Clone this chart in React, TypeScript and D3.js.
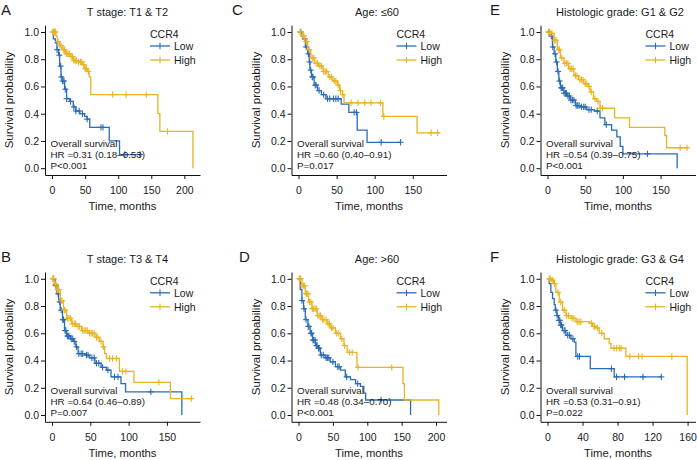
import * as d3 from "d3";
import { useEffect, useRef } from "react";

type Pt = [number, number];

const BLUE = "#2b6cb5";
const GOLD = "#e7b423";
const FONT = "'Liberation Sans', Arial, Helvetica, sans-serif";
const TEXT = "#1a1a1a";

// ---- A: T stage T1 & T2 ----
const A_LOW: Pt[] = [[0, 1], [2, 0.95], [5, 0.92], [7.5, 0.87], [10, 0.83], [11.5, 0.75], [13.5, 0.67], [16, 0.64], [19, 0.58], [22, 0.51], [27, 0.49], [32, 0.45], [36, 0.42], [42, 0.4], [49, 0.38], [53, 0.36], [57, 0.3], [86.5, 0.2], [102, 0.1]];
const A_LOW_END = 135;
const A_LOW_CENS = [7.6, 11, 13, 14, 16, 18, 20, 22, 28, 33, 36, 41, 46, 53, 74, 77, 110, 133];
const A_HIGH: Pt[] = [[0, 1], [6, 0.97], [8, 0.93], [11, 0.9], [15, 0.87], [20, 0.84], [27, 0.82], [33, 0.79], [40, 0.78], [46, 0.76], [50, 0.73], [53, 0.71], [56, 0.67], [58.5, 0.54], [160, 0.4], [163, 0.27], [213, 0]];
const A_HIGH_END = 213;
const A_HIGH_CENS = [1, 2, 3, 4, 5, 9, 12, 14, 17, 19, 22, 24, 26, 29, 31, 33, 35, 37, 40, 43, 45, 48, 50, 52, 55, 91.6, 112, 142.5, 174.5];

// ---- B: T stage T3 & T4 ----
const B_LOW: Pt[] = [[0, 1], [4, 0.95], [6.4, 0.89], [8.6, 0.83], [10.7, 0.77], [13.7, 0.7], [16.3, 0.62], [19, 0.58], [23.6, 0.56], [28, 0.54], [31, 0.5], [34, 0.45], [43, 0.44], [49, 0.42], [56, 0.38], [64, 0.35], [71, 0.33], [77, 0.28], [90, 0.23], [96, 0.17], [169.5, 0]];
const B_LOW_END = 169.5;
const B_LOW_CENS = [2, 5, 8, 10, 12, 14, 15, 17, 18, 20, 21, 22, 25, 27, 29, 32, 35, 38, 40, 45, 47, 52, 55, 58, 61, 66, 73, 81.5, 86, 129];
const B_HIGH: Pt[] = [[0, 1], [3, 0.96], [6.4, 0.92], [10.7, 0.84], [15, 0.77], [19, 0.71], [25.7, 0.67], [32, 0.65], [38.6, 0.62], [47, 0.6], [56, 0.57], [62, 0.54], [66.5, 0.5], [68.7, 0.45], [71, 0.415], [88, 0.32], [107, 0.24], [154.5, 0.12]];
const B_HIGH_END = 183.7;
const B_HIGH_CENS = [1, 2, 4, 5, 7, 8, 9, 12, 13, 16, 17, 20, 22, 24, 27, 29, 31, 34, 36, 40, 42, 44, 46, 49, 51, 53, 55, 58, 60, 64, 67, 75, 79, 84, 92, 96.5, 139.5, 182];

// ---- C: Age <=60 ----
const C_LOW: Pt[] = [[0, 1], [4, 0.97], [6, 0.95], [9, 0.89], [12, 0.84], [14, 0.78], [15, 0.72], [17, 0.67], [20.5, 0.61], [25, 0.57], [30, 0.54], [36, 0.51], [56, 0.47], [66, 0.41], [77, 0.28], [90, 0.19]];
const C_LOW_END = 134;
const C_LOW_CENS = [3, 8, 10, 13, 14.5, 16, 18, 19, 22, 23, 27, 33, 38, 41, 46, 49, 52, 73, 76, 108.5, 134];
const C_HIGH: Pt[] = [[0, 1], [3, 0.98], [5, 0.97], [8, 0.93], [12, 0.87], [16, 0.81], [21, 0.77], [26.6, 0.75], [32, 0.71], [39, 0.67], [45, 0.64], [51, 0.61], [54, 0.57], [57.5, 0.54], [59.7, 0.48], [110.7, 0.38], [155.6, 0.26]];
const C_HIGH_END = 184.7;
const C_HIGH_CENS = [2, 6, 7, 10, 11, 14, 18, 20, 23, 25, 28, 30, 33, 35, 37, 41, 43, 47, 49, 52, 55, 58, 69, 78, 87, 95, 107.6, 112, 174, 182.6];

// ---- D: Age >60 ----
const D_LOW: Pt[] = [[0, 1], [2.4, 0.92], [4.9, 0.84], [7.3, 0.78], [9.8, 0.7], [13.7, 0.65], [17, 0.6], [20.5, 0.55], [24.4, 0.51], [28, 0.49], [31.7, 0.44], [39, 0.42], [46, 0.39], [53.7, 0.355], [61, 0.33], [68, 0.28], [75.6, 0.26], [83, 0.23], [90, 0.21], [95, 0.16], [97.6, 0.11], [163, 0]];
const D_LOW_END = 163;
const D_LOW_CENS = [5, 8, 11, 14, 15, 18, 19, 21, 22, 24, 26, 27, 29, 30, 33, 36, 40, 42, 44, 50, 57, 59, 70, 86, 120];
const D_HIGH: Pt[] = [[0, 1], [4.9, 0.95], [9.8, 0.89], [14.6, 0.83], [19.5, 0.78], [27, 0.73], [34, 0.7], [41.5, 0.67], [46, 0.64], [53.7, 0.6], [61, 0.56], [66, 0.51], [70.7, 0.46], [85, 0.35], [152, 0.23], [154, 0.11], [204, 0]];
const D_HIGH_END = 204;
const D_HIGH_CENS = [1, 2, 3, 5, 7, 9, 11, 12, 14, 16, 18, 20, 22, 24, 26, 28, 30, 32, 35, 37, 40, 43, 45, 48, 50, 55, 58, 63, 67, 74, 78, 86.6, 135.6];

// ---- E: Histologic grade G1 & G2 ----
const E_LOW: Pt[] = [[0, 1], [3.5, 0.97], [6.5, 0.89], [8.7, 0.84], [11, 0.78], [13, 0.71], [15, 0.64], [17, 0.59], [21.7, 0.55], [26, 0.53], [30, 0.5], [37, 0.46], [43.5, 0.45], [52, 0.43], [62, 0.42], [69.6, 0.37], [76, 0.32], [85, 0.28], [92, 0.23], [96.5, 0.16], [100, 0.105], [172, 0]];
const E_LOW_END = 172;
const E_LOW_CENS = [2, 5, 7, 10, 12, 14, 16, 18, 19, 20, 22, 24, 25, 27, 29, 31, 33, 35, 38, 40, 42, 45, 48, 50, 55, 58, 66, 78, 132.6];
const E_HIGH: Pt[] = [[0, 1], [3, 0.99], [8.7, 0.94], [13, 0.87], [17, 0.81], [21.7, 0.77], [28, 0.73], [35, 0.68], [41, 0.65], [48, 0.62], [54, 0.6], [56.5, 0.56], [61, 0.51], [65, 0.49], [69.6, 0.44], [89, 0.37], [108.7, 0.3], [155.6, 0.24], [158, 0.15]];
const E_HIGH_END = 187;
const E_HIGH_CENS = [1, 2, 4, 6, 9, 11, 15, 16, 19, 23, 25, 27, 30, 32, 34, 37, 39, 43, 45, 47, 50, 52, 55, 58, 63, 67, 70, 73, 176, 185];

// ---- F: Histologic grade G3 & G4 ----
const F_LOW: Pt[] = [[0, 1], [1.9, 0.965], [3.8, 0.9], [5.7, 0.855], [7.6, 0.81], [8.8, 0.77], [10.7, 0.73], [12.6, 0.695], [14.5, 0.66], [17.1, 0.62], [21, 0.585], [26.7, 0.56], [30.5, 0.535], [32.4, 0.43], [48.8, 0.34], [76.2, 0.28]];
const F_LOW_END = 130.3;
const F_LOW_CENS = [9.5, 11, 13, 14, 15, 16, 19, 20, 23, 25, 29, 34.5, 36.5, 73, 78.8, 88, 109, 130];
const F_HIGH: Pt[] = [[0, 1], [4.6, 0.99], [6.9, 0.965], [9.5, 0.9], [13.3, 0.83], [17.1, 0.77], [21, 0.73], [26.7, 0.71], [32.4, 0.685], [47.6, 0.675], [51.4, 0.65], [55.2, 0.64], [59, 0.6], [64.8, 0.56], [70.5, 0.525], [72.4, 0.49], [89.5, 0.43], [159.5, 0]];
const F_HIGH_END = 159.5;
const F_HIGH_CENS = [2, 3, 5, 6, 8, 12, 15, 19, 22, 24, 28, 30, 34, 36, 38, 50, 53, 54, 57, 62, 76, 79, 82, 84, 94, 104, 108, 142];

const TICKS_50 = [0, 50, 100, 150];
const TICKS_50_200 = [0, 50, 100, 150, 200];
const TICKS_40 = [0, 40, 80, 120, 160];
const Y_TICKS = [0, 0.2, 0.4, 0.6, 0.8, 1];

const PANELS = [
  { letter: "A", title: "T stage: T1 & T2", col: 0, row: 0, tmax: 213, xTicks: TICKS_50_200, hr: "HR =0.31 (0.18\u20130.53)", p: "P<0.001", low: A_LOW, lowEnd: A_LOW_END, lowCens: A_LOW_CENS, high: A_HIGH, highEnd: A_HIGH_END, highCens: A_HIGH_CENS, lx: 1 },
  { letter: "C", title: "Age: \u226460", col: 1, row: 0, tmax: 185, xTicks: TICKS_50, hr: "HR =0.60 (0.40\u20130.91)", p: "P=0.017", low: C_LOW, lowEnd: C_LOW_END, lowCens: C_LOW_CENS, high: C_HIGH, highEnd: C_HIGH_END, highCens: C_HIGH_CENS, lx: 232 },
  { letter: "E", title: "Histologic grade: G1 & G2", col: 2, row: 0, tmax: 187, xTicks: TICKS_50, hr: "HR =0.54 (0.39\u20130.75)", p: "P<0.001", low: E_LOW, lowEnd: E_LOW_END, lowCens: E_LOW_CENS, high: E_HIGH, highEnd: E_HIGH_END, highCens: E_HIGH_CENS, lx: 490 },
  { letter: "B", title: "T stage: T3 & T4", col: 0, row: 1, tmax: 184, xTicks: TICKS_50, hr: "HR =0.64 (0.46\u20130.89)", p: "P=0.007", low: B_LOW, lowEnd: B_LOW_END, lowCens: B_LOW_CENS, high: B_HIGH, highEnd: B_HIGH_END, highCens: B_HIGH_CENS, lx: 1 },
  { letter: "D", title: "Age: >60", col: 1, row: 1, tmax: 205, xTicks: TICKS_50_200, hr: "HR =0.48 (0.34\u20130.70)", p: "P<0.001", low: D_LOW, lowEnd: D_LOW_END, lowCens: D_LOW_CENS, high: D_HIGH, highEnd: D_HIGH_END, highCens: D_HIGH_CENS, lx: 239 },
  { letter: "F", title: "Histologic grade: G3 & G4", col: 2, row: 1, tmax: 161, xTicks: TICKS_40, hr: "HR =0.53 (0.31\u20130.91)", p: "P=0.022", low: F_LOW, lowEnd: F_LOW_END, lowCens: F_LOW_CENS, high: F_HIGH, highEnd: F_HIGH_END, highCens: F_HIGH_CENS, lx: 490 },
];

const COL_LEFT = [45, 291.5, 540.5];
const TITLE_CX = [127.5, 377, 620];
const ROW_TOP = [25.2, 272];
const PW = 155;
const PH = 149.8;

function survAt(steps: Pt[], t: number) {
  let s = 1;
  for (const [ti, si] of steps) if (ti <= t) s = si;
  return s;
}

function Curve({ steps, end, cens, color, x, y }: any) {
  const last = steps[steps.length - 1];
  const pts: Pt[] = end > last[0] ? [...steps, [end, last[1]]] : steps;
  const line = d3.line<Pt>().x((d) => x(d[0])).y((d) => y(d[1])).curve(d3.curveStepAfter);
  return (
    <g>
      <path d={line(pts) || ""} fill="none" stroke={color} strokeWidth={1.3} />
      {cens.map((t: number, i: number) => {
        const cx = x(t);
        const cy = y(survAt(steps, t));
        return (
          <g key={i} stroke={color} strokeWidth={1.1}>
            <line x1={cx} x2={cx} y1={cy - 3.2} y2={cy + 3.2} />
            <line x1={cx - 3} x2={cx + 3} y1={cy} y2={cy} />
          </g>
        );
      })}
    </g>
  );
}

function KmPanel({ cfg }: any) {
  const gx = useRef<SVGGElement>(null);
  const gy = useRef<SVGGElement>(null);
  const left = COL_LEFT[cfg.col];
  const top = ROW_TOP[cfg.row];
  const x = d3.scaleLinear().domain([-0.05 * cfg.tmax, 1.05 * cfg.tmax]).range([left, left + PW]);
  const y = d3.scaleLinear().domain([-0.05, 1.05]).range([top + PH, top]);

  useEffect(() => {
    const style = (g: any) => {
      g.select(".domain").attr("stroke", "#111").attr("stroke-width", 1);
      g.selectAll(".tick line").attr("stroke", "#111").attr("stroke-width", 1);
      g.selectAll("text").attr("font-size", 10.5).attr("font-family", FONT).attr("fill", TEXT);
    };
    d3.select(gx.current!)
      .call(d3.axisBottom(x).tickValues(cfg.xTicks).tickSize(4).tickSizeOuter(0).tickPadding(7.5).tickFormat(d3.format("d")))
      .call(style);
    d3.select(gy.current!)
      .call(d3.axisLeft(y).tickValues(Y_TICKS).tickSize(4).tickSizeOuter(0).tickPadding(2).tickFormat(d3.format(".1f")))
      .call(style);
  });

  const y0 = y(0);
  const lgx = left + 105;
  return (
    <g fontFamily={FONT} fill={TEXT}>
      <text x={cfg.lx} y={top - 10} fontSize={15}>{cfg.letter}</text>
      <text x={TITLE_CX[cfg.col]} y={top - 9} fontSize={11} textAnchor="middle">{cfg.title}</text>
      <Curve steps={cfg.low} end={cfg.lowEnd} cens={cfg.lowCens} color={BLUE} x={x} y={y} />
      <Curve steps={cfg.high} end={cfg.highEnd} cens={cfg.highCens} color={GOLD} x={x} y={y} />
      <g ref={gx} transform={`translate(0,${top + PH})`} />
      <g ref={gy} transform={`translate(${left},0)`} />
      <text x={left + PW / 2} y={top + 184.5} fontSize={11.3} textAnchor="middle">Time, months</text>
      <text transform={`translate(${left - 32},${top + PH / 2}) rotate(-90)`} fontSize={11.5} textAnchor="middle">Survival probability</text>
      <g fontSize={9.8}>
        <text x={x(0) - 1.5} y={y0 - 20.8}>Overall survival</text>
        <text x={x(0) - 1.5} y={y0 - 9.8}>{cfg.hr}</text>
        <text x={x(0) - 1.5} y={y0 + 1.2}>{cfg.p}</text>
      </g>
      <g fontSize={10.5}>
        <text x={lgx} y={top + 12.6}>CCR4</text>
        {[{ c: BLUE, l: "Low", dy: 20.8 }, { c: GOLD, l: "High", dy: 34.8 }].map((k) => (
          <g key={k.l}>
            <line x1={lgx} x2={lgx + 20} y1={top + k.dy} y2={top + k.dy} stroke={k.c} strokeWidth={1.3} />
            <line x1={lgx + 10} x2={lgx + 10} y1={top + k.dy - 3.2} y2={top + k.dy + 3.2} stroke={k.c} strokeWidth={1.1} />
            <text x={lgx + 24} y={top + k.dy + 3.8}>{k.l}</text>
          </g>
        ))}
      </g>
    </g>
  );
}

export default function App() {
  return (
    <div style={{ position: "fixed", left: 0, top: 0 }}>
      <svg width={697} height={460} style={{ display: "block", background: "#fff" }}>
        {PANELS.map((p) => (
          <KmPanel key={p.letter} cfg={p} />
        ))}
      </svg>
    </div>
  );
}
